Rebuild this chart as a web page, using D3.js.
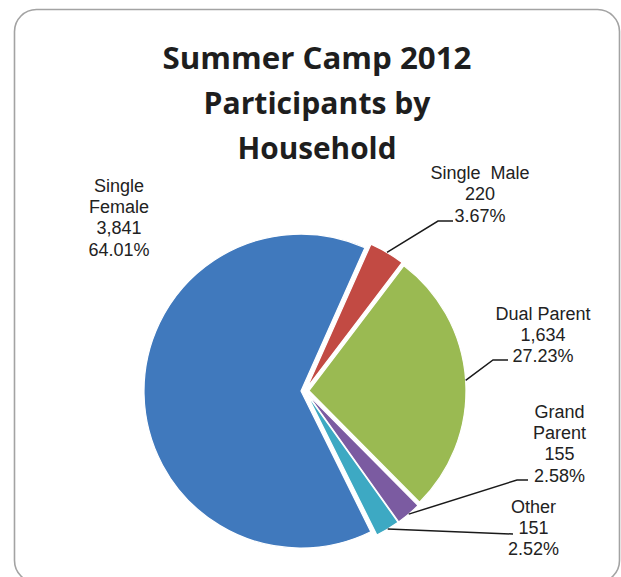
<!DOCTYPE html>
<html><head><meta charset="utf-8">
<script src="https://cdn.jsdelivr.net/npm/d3@7"></script>
<style>body{margin:0;background:#fff}svg{display:block}</style>
</head><body><svg id="c" width="621" height="577"></svg>
<script>
// ---- data ----
const categories = ["Single Female", "Single  Male", "Dual Parent", "Grand Parent", "Other"];
const values = [3841, 220, 1634, 155, 151];
const labelNameLines = [["Single", "Female"], ["Single  Male"], ["Dual Parent"], ["Grand", "Parent"], ["Other"]];
const colors = ["#4079bd", "#c24a43", "#9aba52", "#7b5ba1", "#3da9c3"];
const titleLines = ["Summer Camp 2012", "Participants by", "Household"];

// ---- layout ----
const W = 621, H = 577;
const cx = 305, cy = 391, R = 157, explode = 4;
const startDeg = 153.6;
const labelPos = [[119, 191.5], [480, 179], [543, 319.5], [559.5, 417.5], [533.5, 512.5]];
const lineH = 21.4;
const leaderPts = [null, [[438, 221], [453, 221]], [[493, 360], [508, 360]], [[517, 480], [528, 480]], [[513, 534]]];
const titleWidths = [309, 227, 159];
const titleBase = [69, 114, 159];

const svg = d3.select("#c");
svg.append("rect").attr("width", W).attr("height", H).attr("fill", "#fff");
svg.append("rect").attr("x", 14.5).attr("y", 9.5).attr("width", 605).attr("height", 573)
  .attr("rx", 22).attr("fill", "#fff").attr("stroke", "#a3a3a3").attr("stroke-width", 1.6);

// title
svg.append("g").selectAll("text").data(titleLines).join("text")
  .attr("x", 317).attr("y", (d, i) => titleBase[i])
  .attr("text-anchor", "middle")
  .attr("font-family", "'Open Sans', sans-serif").attr("font-weight", 700).attr("font-size", 30)
  .attr("textLength", (d, i) => titleWidths[i]).attr("lengthAdjust", "spacingAndGlyphs")
  .attr("fill", "#1e1e1e").text(d => d);

const total = d3.sum(values);
const pct = d3.format(".2%"), num = d3.format(",");
const rad = startDeg * Math.PI / 180;
const pie = d3.pie().sort(null).startAngle(rad).endAngle(rad + 2 * Math.PI);
const arcs = pie(values);
const arc = d3.arc().innerRadius(0).outerRadius(R);

const mid = a => (a.startAngle + a.endAngle) / 2;
const off = a => [explode * Math.sin(mid(a)), -explode * Math.cos(mid(a))];

const g = svg.append("g").attr("transform", `translate(${cx},${cy})`);
g.selectAll("path").data(arcs).join("path")
  .attr("d", arc)
  .attr("transform", d => { const o = off(d); return `translate(${o[0]},${o[1]})`; })
  .attr("fill", (d, i) => colors[i])
  .attr("stroke", "#fff").attr("stroke-width", 1.2).attr("stroke-linejoin", "round");

// leader lines
arcs.forEach((a, i) => {
  if (!leaderPts[i]) return;
  const o = off(a), m = mid(a);
  const p0 = [cx + o[0] + R * Math.sin(m), cy + o[1] - R * Math.cos(m)];
  const pts = [p0, ...leaderPts[i]];
  svg.append("path").attr("d", d3.line()(pts))
    .attr("fill", "none").attr("stroke", "#1a1a1a").attr("stroke-width", 1.5);
});

// labels
arcs.forEach((a, i) => {
  const lines = [...labelNameLines[i], num(values[i]), pct(values[i] / total)];
  svg.append("g").selectAll("text").data(lines).join("text")
    .attr("x", labelPos[i][0]).attr("y", (d, j) => labelPos[i][1] + j * lineH)
    .attr("text-anchor", "middle")
    .attr("font-family", "'Liberation Sans', Arial, sans-serif").attr("font-size", 18)
    .attr("fill", "#222").attr("xml:space", "preserve").style("white-space", "pre")
    .text(d => d);
});
</script></body></html>
